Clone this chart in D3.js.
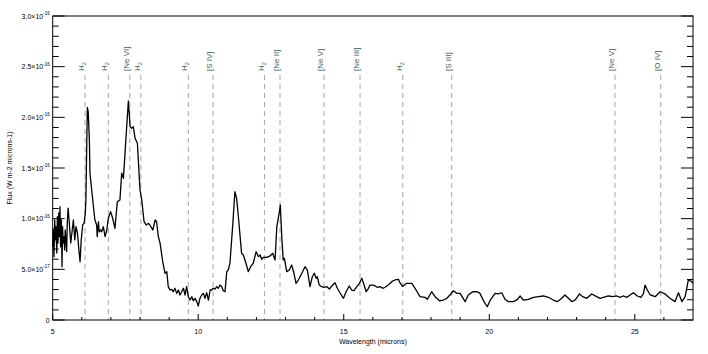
<!DOCTYPE html>
<html lang="en">
<head>
    <meta charset="UTF-8">
    <script src="https://d3js.org/d3.v7.min.js"></script>
    <style>
        body { margin: 0; background: #fff; }
        text { font-family: "Liberation Sans", Arial, Helvetica, sans-serif; }
    </style>
</head>
<body>
<div id="visualization"></div>

<script>
// wavelength (microns)
const wavelength = [
    5.00,5.02,5.045,5.07,5.09,5.11,5.14,5.16,5.18,5.21,5.23,5.25,5.27,5.30,5.32,5.34,5.36,5.39,5.41,5.43,
    5.46,5.48,5.50,5.53,5.57,5.62,5.66,5.71,5.76,5.80,5.85,5.89,5.94,5.98,6.03,6.08,6.12,6.14,
    6.19,6.22,6.26,6.28,6.34,6.40,6.45,6.51,6.53,6.57,6.60,6.65,6.68,6.74,6.80,6.86,6.91,6.99,7.06,7.14,
    7.22,7.31,7.37,7.43,7.52,7.60,7.66,7.71,7.77,7.83,7.91,8.00,8.06,8.14,8.21,8.29,8.34,8.44,8.52,8.57,
    8.63,8.69,8.78,8.86,8.92,8.97,9.03,9.09,9.14,9.20,9.26,9.32,9.37,9.43,9.49,9.55,9.60,9.66,9.72,9.78,
    9.83,9.89,9.95,10.00,10.06,10.12,10.18,10.23,10.29,10.35,10.41,10.46,10.52,10.58,10.64,10.69,10.75,10.81,10.86,10.92,
    10.98,11.03,11.09,11.19,11.26,11.32,11.38,11.44,11.49,11.55,11.64,11.72,11.80,11.89,11.99,12.07,
    12.13,12.18,12.24,12.35,12.47,12.56,12.64,12.70,12.78,12.82,12.87,12.92,12.96,13.04,13.13,13.21,13.29,13.36,13.44,13.56,
    13.67,13.75,13.84,13.92,13.99,14.05,14.09,14.16,14.24,14.32,14.42,14.51,14.59,14.70,14.78,14.87,14.99,15.08,15.19,15.27,
    15.35,15.45,15.54,15.62,15.70,15.77,15.85,15.90,16.00,16.08,16.15,16.25,16.34,16.42,16.53,16.65,16.76,16.88,16.93,
    17.02,17.16,17.34,17.45,17.62,17.79,17.87,18.02,18.14,18.29,18.42,18.54,18.65,18.77,18.88,19.00,19.17,19.28,19.43,19.59,
    19.68,19.82,19.93,20.05,20.20,20.31,20.43,20.54,20.66,20.83,20.97,21.06,21.17,21.34,21.52,21.69,21.86,22.03,22.20,22.34,
    22.49,22.60,22.72,22.84,22.95,23.10,23.21,23.35,23.52,23.69,23.81,23.92,24.09,24.26,24.38,24.49,24.60,24.73,24.84,24.95,
    25.09,25.21,25.30,25.35,25.43,25.53,25.70,25.87,26.04,26.21,26.38,26.50,26.62,26.73,26.84,26.96,27.0
];

// flux in units of 1e-17 W m-2 micron-1
const flux = [
    7.23,8.88,6.25,9.87,7.90,9.21,6.61,10.19,7.60,10.56,8.22,11.18,7.23,9.87,5.26,9.21,7.60,8.22,6.91,8.88,
    7.60,6.74,9.57,11.05,9.57,7.60,8.59,9.87,7.90,9.21,8.59,7.23,5.75,7.90,9.38,9.57,10.56,11.84,
    20.97,20.56,17.76,14.51,12.83,11.18,9.87,9.38,8.22,9.70,8.71,8.88,8.71,9.21,8.22,8.88,10.04,10.69,10.04,9.05,
    11.67,11.84,14.48,13.98,18.09,21.61,19.08,18.92,19.08,17.93,17.44,12.83,11.84,9.70,9.38,9.54,9.38,8.88,9.87,9.70,
    8.22,7.57,5.75,4.61,4.77,3.29,2.96,3.03,2.79,3.13,2.63,2.96,2.47,2.79,3.13,2.47,3.29,2.30,1.97,2.30,
    1.90,2.14,1.81,1.38,2.14,2.47,2.63,2.14,2.69,1.97,2.96,2.96,3.13,3.06,3.29,3.13,3.45,3.29,2.89,2.79,
    4.77,4.93,5.60,9.54,12.66,12.01,10.19,8.22,6.58,6.41,5.60,4.77,5.26,5.60,6.74,6.25,
    6.41,5.99,6.19,6.19,6.32,6.58,5.92,9.21,10.53,11.35,8.22,5.92,6.09,4.77,4.93,5.43,4.61,3.62,3.95,4.61,
    5.26,4.93,3.29,4.27,4.61,4.12,4.27,3.45,3.29,3.23,3.29,3.06,3.36,3.68,3.13,2.69,2.14,2.79,3.36,2.96,
    2.89,3.29,3.62,4.12,3.45,2.79,3.13,3.45,3.45,3.36,3.23,3.29,3.13,3.23,3.45,3.78,3.95,4.02,3.68,
    3.31,3.62,3.62,3.13,2.30,2.24,2.04,2.79,2.30,1.90,1.97,2.14,2.47,2.89,2.63,2.63,1.81,2.47,2.79,2.79,
    2.63,1.81,1.31,2.04,2.63,2.57,2.69,2.04,1.81,1.81,2.04,2.37,1.97,2.04,2.24,2.30,2.37,2.24,1.97,1.81,
    2.14,2.47,2.14,1.81,1.97,2.57,2.30,2.14,2.57,2.30,2.14,2.24,2.37,2.30,2.37,2.24,2.37,2.24,2.47,2.69,
    2.37,2.24,2.63,3.45,2.96,2.47,2.30,2.79,2.57,2.14,1.81,2.69,1.81,2.30,3.95,3.78,3.62
];
const fluxUnit = 1e-17;

// emission lines
const lineWaves = [6.11, 6.91, 7.65, 8.03, 9.66, 10.51, 12.28, 12.81, 14.32, 15.56, 17.03, 18.71, 24.32, 25.89];
const lineNames = ["H2", "H2", "[Ne VI]", "H2", "H2", "[S IV]", "H2", "[Ne II]", "[Ne V]", "[Ne III]", "H2", "[S III]", "[Ne V]", "[O IV]"];

// axes
const xTicks = [5, 10, 15, 20, 25];
const yTicks = [0, 0.5e-16, 1.0e-16, 1.5e-16, 2.0e-16, 2.5e-16, 3.0e-16];
const yTickMant = ["0", "5.0", "1.0", "1.5", "2.0", "2.5", "3.0"];
const yTickExp = ["", "-17", "-16", "-16", "-16", "-16", "-16"];

const svgWidth = 708, svgHeight = 354,
    margin = { top: 16, right: 15, bottom: 34, left: 52.7 },
    width = svgWidth - margin.left - margin.right,
    height = svgHeight - margin.top - margin.bottom;

const svg = d3.select('#visualization').append('svg')
    .attr('width', svgWidth)
    .attr('height', svgHeight);

const g = svg.append('g')
    .attr('transform', 'translate(' + margin.left + ',' + margin.top + ')');

const x = d3.scaleLinear().domain([5, 27]).range([0, width]);
const y = d3.scaleLinear().domain([0, 3e-16]).range([height, 0]);

const lineColor = '#9aabab', labelColor = '#3e5d5c';

// dashed line markers
g.selectAll('.eline')
    .data(lineWaves)
    .enter().append('line')
    .attr('x1', d => x(d)).attr('x2', d => x(d))
    .attr('y1', 59).attr('y2', height)
    .attr('stroke', lineColor)
    .attr('stroke-width', 1)
    .attr('stroke-dasharray', '5,4');

const lab = g.selectAll('.elabel')
    .data(lineWaves)
    .enter().append('text')
    .attr('transform', d => 'translate(' + (x(d) - 1) + ',55) rotate(-90)')
    .attr('font-size', 8)
    .attr('fill', labelColor);
lab.each(function(d, i) {
    const t = d3.select(this);
    if (lineNames[i] === 'H2') {
        t.append('tspan').text('H');
        t.append('tspan').attr('font-size', 5.5).attr('dy', 2).text('2');
    } else {
        t.text(lineNames[i]);
    }
});

// spectrum
const data = d3.zip(wavelength, flux);
g.append('path')
    .datum(data)
    .attr('fill', 'none')
    .attr('stroke', '#000')
    .attr('stroke-width', 1.3)
    .attr('stroke-linejoin', 'round')
    .attr('d', d3.line().x(d => x(d[0])).y(d => y(d[1] * fluxUnit)));

// frame and ticks
g.append('rect')
    .attr('width', width).attr('height', height)
    .attr('fill', 'none').attr('stroke', '#000').attr('stroke-width', 1);

const xMinor = d3.range(6, 27, 1).filter(v => v % 5 !== 0);
g.selectAll('.xmaj').data(xTicks).enter().append('line')
    .attr('x1', d => x(d)).attr('x2', d => x(d))
    .attr('y1', height).attr('y2', height - 6)
    .attr('stroke', '#000');
g.selectAll('.xmin').data(xMinor).enter().append('line')
    .attr('x1', d => x(d)).attr('x2', d => x(d))
    .attr('y1', height).attr('y2', height - 3)
    .attr('stroke', '#000');

const yMinor = d3.range(1, 30).filter(v => v % 5 !== 0).map(v => v * 1e-17);
[0, width].forEach(function(ox) {
    const dir = ox === 0 ? 1 : -1;
    g.selectAll(null).data(yTicks).enter().append('line')
        .attr('x1', ox).attr('x2', ox + dir * 12)
        .attr('y1', d => y(d)).attr('y2', d => y(d))
        .attr('stroke', '#000');
    g.selectAll(null).data(yMinor).enter().append('line')
        .attr('x1', ox).attr('x2', ox + dir * 6)
        .attr('y1', d => y(d)).attr('y2', d => y(d))
        .attr('stroke', '#000');
});

// tick labels
g.selectAll('.xlabel').data(xTicks).enter().append('text')
    .attr('x', d => x(d)).attr('y', height + 14)
    .attr('text-anchor', 'middle')
    .attr('font-size', 7)
    .text(d => d);

const yl = g.selectAll('.ylabel').data(yTicks).enter().append('text')
    .attr('x', -3).attr('y', d => y(d) + 2.5)
    .attr('text-anchor', 'end')
    .attr('font-size', 7);
yl.each(function(d, i) {
    const t = d3.select(this);
    if (yTickExp[i] === '') {
        t.text(yTickMant[i]);
    } else {
        t.append('tspan').text(yTickMant[i] + '\u00d710');
        t.append('tspan').attr('font-size', 4.5).attr('dy', -3.5).text(yTickExp[i]);
    }
});

// axis titles
g.append('text')
    .attr('x', width / 2).attr('y', height + 24)
    .attr('text-anchor', 'middle')
    .attr('font-size', 7)
    .text('Wavelength (microns)');

g.append('text')
    .attr('transform', 'translate(' + (-41) + ',' + (height / 2) + ') rotate(-90)')
    .attr('text-anchor', 'middle')
    .attr('font-size', 7)
    .text('Flux (W m-2 microns-1)');
</script>
</body>
</html>
